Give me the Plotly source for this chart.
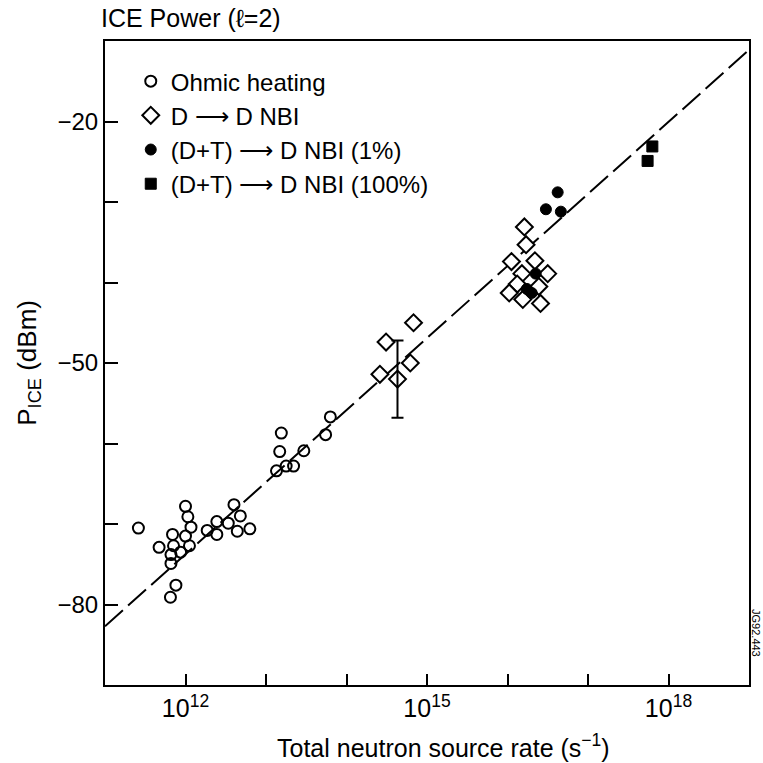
import plotly.graph_objects as go

# ---------------- data ----------------
ohmic_rate = [2.6e11, 4.7e11, 6.9e11, 6.6e11, 6.6e11, 7.1e11, 8.7e11, 1.0e12, 1.07e12, 1.17e12,
              1.0e12, 1.12e12, 7.6e11, 6.5e11, 1.86e12, 2.45e12, 2.45e12, 3.4e12, 4.0e12, 4.8e12,
              4.4e12, 6.3e12, 1.55e13, 1.48e13, 1.35e13, 1.78e13, 2.2e13, 2.95e13, 5.5e13, 6.3e13]
ohmic_pice = [-70.5, -72.9, -71.3, -73.8, -74.9, -72.7, -73.5, -67.8, -69.1, -70.4,
              -71.5, -72.7, -77.6, -79.1, -70.8, -69.7, -71.3, -69.9, -67.6, -69.0,
              -70.9, -70.6, -58.7, -61.0, -63.4, -62.8, -62.8, -60.9, -58.9, -56.7]

dd_rate = [3.1e14, 6.8e14, 2.6e14, 4.3e14, 6.2e14,
           1.62e16, 1.70e16, 1.12e16, 2.19e16, 1.51e16, 3.16e16, 1.32e16, 1.05e16, 1.55e16, 2.57e16, 2.45e16]
dd_pice = [-47.4, -45.0, -51.4, -52.0, -50.0,
           -33.1, -35.3, -37.4, -37.3, -38.9, -38.9, -40.2, -41.3, -42.1, -42.6, -40.5]

dt1_rate = [4.2e16, 3.0e16, 4.6e16, 2.24e16, 1.74e16, 2.0e16]
dt1_pice = [-28.8, -30.9, -31.2, -38.9, -40.8, -41.3]

dt100_rate = [6.3e17, 5.5e17]
dt100_pice = [-23.1, -24.9]

# representative error bar
err_rate = [4.3e14]
err_pice = [-52.0]
err_size = [4.8]

# fitted scaling line (end points)
fit_rate = [1e11, 1e19]
fit_pice = [-82.7, -11.1]

x_tickvals = [1e11, 1e12, 1e13, 1e14, 1e15, 1e16, 1e17, 1e18, 1e19]
x_ticktext = ["", "10<sup>12</sup>", "", "", "10<sup>15</sup>", "", "", "10<sup>18</sup>", ""]
y_tickvals = [-80, -70, -60, -50, -40, -30, -20]
y_ticktext = ["\u221280", "", "", "\u221250", "", "", "\u221220"]

FONT = "Liberation Sans, Arial, Helvetica, sans-serif"
ARROW = " \u27f6 "

fig = go.Figure()

fig.add_trace(go.Scatter(x=fit_rate, y=fit_pice, mode="lines",
                         line=dict(color="black", width=2, dash="24px,7px"),
                         showlegend=False, hoverinfo="skip"))

fig.add_trace(go.Scatter(x=ohmic_rate, y=ohmic_pice, mode="markers", name="Ohmic heating",
                         marker=dict(symbol="circle-open", size=11, color="black",
                                     line=dict(width=2, color="black"))))
fig.add_trace(go.Scatter(x=dd_rate, y=dd_pice, mode="markers", name="D" + ARROW + "D NBI",
                         marker=dict(symbol="diamond", size=13, color="white",
                                     line=dict(width=2, color="black"))))
fig.add_trace(go.Scatter(x=dt1_rate, y=dt1_pice, mode="markers", name="(D+T)" + ARROW + "D NBI (1%)",
                         marker=dict(symbol="circle", size=11, color="black",
                                     line=dict(width=1, color="black"))))
fig.add_trace(go.Scatter(x=dt100_rate, y=dt100_pice, mode="markers", name="(D+T)" + ARROW + "D NBI (100%)",
                         marker=dict(symbol="square", size=11, color="black",
                                     line=dict(width=1, color="black"))))

fig.add_trace(go.Scatter(x=err_rate, y=err_pice, mode="markers",
                         marker=dict(size=1, color="rgba(0,0,0,0)"),
                         error_y=dict(type="data", array=err_size, visible=True,
                                      color="black", thickness=2, width=6),
                         showlegend=False, hoverinfo="skip"))

fig.update_xaxes(type="log", range=[11, 19], tickvals=x_tickvals, ticktext=x_ticktext,
                 ticks="inside", ticklen=11, tickwidth=1.5, tickcolor="black",
                 showline=True, linecolor="black", linewidth=2, mirror=True,
                 showgrid=False, zeroline=False,
                 tickfont=dict(family=FONT, size=25, color="black"))
fig.update_yaxes(range=[-90, -10], tickvals=y_tickvals, ticktext=y_ticktext,
                 ticks="inside", ticklen=13, tickwidth=1.5, tickcolor="black",
                 showline=True, linecolor="black", linewidth=2, mirror=True,
                 showgrid=False, zeroline=False,
                 tickfont=dict(family=FONT, size=24, color="black"))

fig.add_annotation(text="ICE Power (\u2113=2)", xref="paper", yref="paper",
                   x=-0.01, y=1.036, xanchor="left", yanchor="middle", showarrow=False,
                   font=dict(family=FONT, size=25, color="black"))
fig.add_annotation(text="P<sub>ICE</sub> (dBm)", xref="paper", yref="paper",
                   x=-0.12, y=0.5, xanchor="center", yanchor="middle", textangle=-90,
                   showarrow=False, font=dict(family=FONT, size=26, color="black"))
fig.add_annotation(text="Total neutron source rate (s<sup>\u22121</sup>)", xref="paper", yref="paper",
                   x=0.525, y=-0.094, xanchor="center", yanchor="middle", showarrow=False,
                   font=dict(family=FONT, size=25, color="black"))
fig.add_annotation(text="JG92.443", xref="paper", yref="paper",
                   x=1.01, y=0.08, xanchor="center", yanchor="middle", textangle=90,
                   showarrow=False, font=dict(family=FONT, size=11, color="black"))

fig.update_layout(
    width=763, height=763,
    margin=dict(l=105, r=12, t=41, b=78),
    paper_bgcolor="white", plot_bgcolor="white",
    font=dict(family=FONT, color="black"),
    legend=dict(x=0.04, y=0.972, xanchor="left", yanchor="top",
                bgcolor="rgba(0,0,0,0)", borderwidth=0,
                font=dict(family=FONT, size=24, color="black"),
                itemwidth=30, tracegroupgap=0),
)

fig.write_html("out.html")
